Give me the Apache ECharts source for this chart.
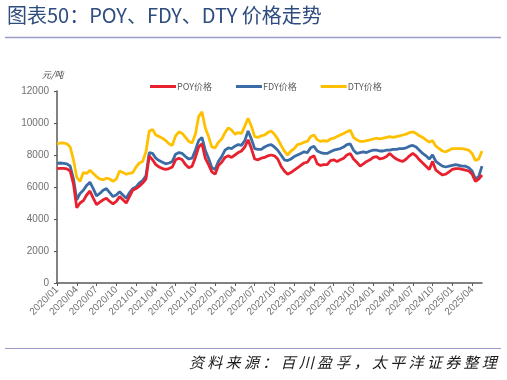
<!DOCTYPE html>
<html><head><meta charset="utf-8">
<script src="https://cdn.jsdelivr.net/npm/echarts@6/dist/echarts.min.js"></script>
<style>html,body{margin:0;padding:0;background:#fff}#c{width:507px;height:380px}</style>
</head><body><div id="c"></div>
<script>
// semi-monthly sample dates from 2020/01 to 2025/05
var dates = [];
for (var i = 0; i < 130; i++) {
  var y = 2020 + Math.floor(i / 24), mo = Math.floor(i / 2) % 12 + 1;
  dates.push(y + '/' + (mo < 10 ? '0' + mo : mo) + (i % 2 ? '/16' : '/01'));
}
var dty = [8700,8750,8750,8700,8500,7700,6600,6350,6900,6850,7050,6850,6650,6500,6450,6550,6500,6350,6500,7000,
6900,6800,6850,6900,7250,7500,7600,8200,9500,9600,9250,9150,9050,8900,8700,8600,9200,9450,9350,9100,
8850,8750,9300,10400,10700,9700,9150,8500,8450,8800,9000,9400,9700,9550,9300,9400,9350,9800,10300,9800,
9150,9100,9200,9250,9400,9500,9300,9000,8600,8250,8000,8250,8400,8650,8700,8800,8850,9150,9250,8950,
8850,8900,8850,9000,9050,9150,9250,9350,9450,9550,9100,8950,8850,8850,8900,8950,9000,9050,9000,9050,
9100,9150,9100,9150,9200,9250,9300,9400,9450,9350,9200,9100,8950,8800,8900,8550,8400,8250,8200,8300,
8400,8400,8400,8400,8350,8300,8100,7650,7750,8250];
var fdy = [7480,7500,7480,7450,7300,6500,5200,5600,5800,6100,6300,5900,5450,5600,5800,5900,5650,5400,5500,5700,
5500,5300,5650,5900,6000,6250,6400,6700,8150,8100,7800,7650,7550,7450,7500,7600,8050,8150,8100,7900,
7750,7800,8300,8900,9100,8300,7800,7200,7100,7600,7900,8300,8450,8400,8550,8650,8600,8900,9500,9000,
8400,8350,8350,8500,8600,8650,8500,8300,8000,7700,7650,7750,7900,8000,8100,8200,8150,8450,8550,8250,
8150,8100,8100,8200,8300,8350,8400,8500,8650,8700,8300,8100,8150,8200,8150,8250,8300,8300,8250,8250,
8300,8300,8350,8350,8400,8400,8450,8550,8600,8500,8300,8100,7950,7750,8000,7600,7450,7300,7250,7300,
7350,7400,7350,7300,7300,7200,7000,6500,6650,7300];
var poy = [7150,7170,7170,7130,7000,6200,4700,5000,5150,5500,5750,5300,4900,5050,5200,5300,5100,4950,5100,5400,
5200,5000,5400,5800,5900,6050,6250,6500,7950,7700,7400,7250,7150,7100,7150,7250,7700,7800,7700,7400,
7200,7300,7850,8500,8700,7800,7400,6950,6800,7350,7550,7850,7950,7850,8000,8150,8250,8500,8950,8400,
7750,7700,7800,7850,7950,8000,7950,7750,7300,7000,6800,6900,7050,7200,7350,7500,7550,7850,7950,7450,
7350,7400,7400,7650,7700,7600,7700,7800,8000,8100,7750,7550,7300,7450,7600,7700,7850,7900,7750,7800,
7900,8100,7900,7750,7650,7600,7750,7950,8100,7950,7700,7500,7300,7100,7600,7050,6900,6750,6800,6950,
7100,7150,7150,7100,7050,7000,6800,6350,6500,6750];
var seriesNames = ['POY价格', 'FDY价格', 'DTY价格'];
var colors = ['#E8212E', '#3B6CA6', '#FFC000'];
var sourceText = '资料来源：百川盈孚，太平洋证券整理';

var graphics = [
  {type: 'text', left: 7, top: 5, style: {text: '图表50：POY、FDY、DTY 价格走势', fill: '#2E4C7E', font: '20px "Noto Sans CJK SC"'}},
  {type: 'line', shape: {x1: 5, y1: 37.5, x2: 501, y2: 37.5}, style: {stroke: '#9C9CC8', lineWidth: 1.5}},
  {type: 'text', left: 42, top: 70, style: {text: '元/吨', fill: '#404040', font: 'italic 9px "Noto Sans CJK SC"'}},
  {type: 'line', shape: {x1: 5, y1: 348.5, x2: 501, y2: 348.5}, style: {stroke: '#9C9CC8', lineWidth: 1}}
];
for (var k = 0; k < sourceText.length; k++) {
  graphics.push({type: 'text', x: 189 + k * 18.3, y: 355,
    style: {text: sourceText[k], fill: '#1a1a1a', font: 'italic 15px "Noto Sans CJK SC"'}});
}

var chart = echarts.init(document.getElementById('c'), null, {renderer: 'canvas'});
var font = '"Liberation Sans", Arial, sans-serif';
chart.setOption({
  animation: false,
  backgroundColor: '#fff',
  graphic: graphics,
  legend: {
    top: 77, left: 145, itemGap: 24, itemWidth: 26, itemHeight: 3,
    icon: 'rect',
    textStyle: {color: '#595959', fontSize: 9, fontFamily: '"Noto Sans CJK SC"', padding: [0, 0, 0, -4]},
    data: seriesNames
  },
  grid: {left: 57, right: 25, top: 91, bottom: 97, containLabel: false},
  xAxis: {
    type: 'category', data: dates, boundaryGap: false,
    axisLine: {lineStyle: {color: '#595959', width: 1.5}},
    axisTick: {interval: 5, length: 3, lineStyle: {color: '#595959'}},
    axisLabel: {interval: 5, rotate: 45, color: '#707070', fontSize: 10, fontFamily: font, margin: 5,
      formatter: function (v) { return v.slice(0, 7); }},
    splitLine: {show: false}
  },
  yAxis: {
    type: 'value', min: 0, max: 12000, interval: 2000,
    axisLine: {show: true, lineStyle: {color: '#595959', width: 1.5}},
    axisTick: {show: true, inside: false, length: 3, lineStyle: {color: '#595959'}},
    axisLabel: {color: '#707070', fontSize: 10, fontFamily: font, margin: 8,
      formatter: function (v) { return String(v); }},
    splitLine: {show: false}
  },
  series: [
    {name: seriesNames[0], type: 'line', data: poy, showSymbol: false, lineStyle: {width: 2.8, color: colors[0]}, itemStyle: {color: colors[0]}, z: 4},
    {name: seriesNames[1], type: 'line', data: fdy, showSymbol: false, lineStyle: {width: 2.8, color: colors[1]}, itemStyle: {color: colors[1]}, z: 3},
    {name: seriesNames[2], type: 'line', data: dty, showSymbol: false, lineStyle: {width: 2.8, color: colors[2]}, itemStyle: {color: colors[2]}, z: 2}
  ]
});
</script></body></html>
